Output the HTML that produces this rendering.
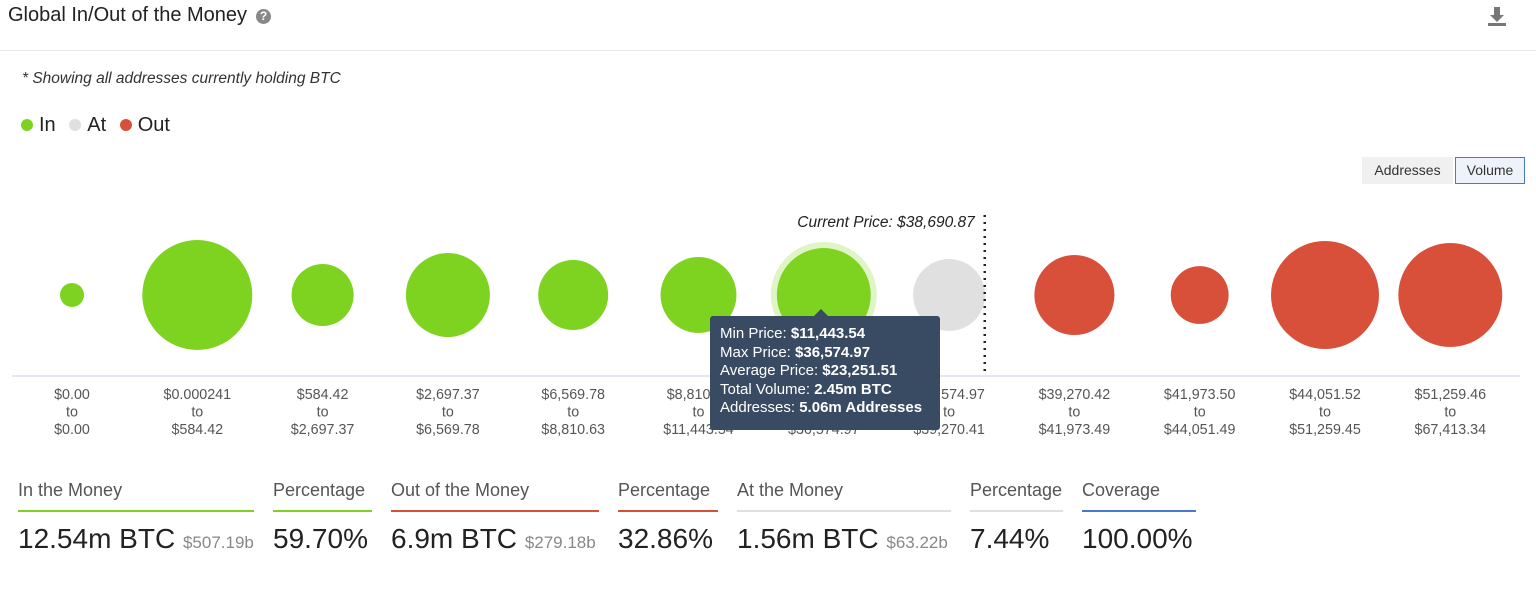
<!DOCTYPE html>
<html><head><meta charset="utf-8"><style>
body{margin:0;width:1536px;height:593px;background:#fff;font-family:"Liberation Sans",sans-serif;position:relative;overflow:hidden;color:#222}
.a{position:absolute;white-space:nowrap}
.hd{font-size:18px;color:#555}
.ul{position:absolute;height:2px}
.val{font-size:28px;color:#222}
.sub{font-size:17px;color:#888}
</style></head><body>
<div class="a" style="left:8px;top:4px;font-size:20px;color:#222">Global In/Out of the Money</div>
<div class="a" style="left:256px;top:9px;width:15px;height:15px;border-radius:50%;background:#888;color:#fff;font-size:12px;font-weight:bold;text-align:center;line-height:15px">?</div>
<svg class="a" style="left:1486px;top:5px" width="22" height="22"><path d="M8 2h6v8h4l-7 7-7-7h4z" fill="#777"/><rect x="2" y="18" width="18" height="3" fill="#777"/></svg>
<div class="a" style="left:0;top:50px;width:1536px;height:1px;background:#e6e6e6"></div>
<div class="a" style="left:22px;top:70px;font-size:15.5px;font-style:italic;color:#333">* Showing all addresses currently holding BTC</div>
<div class="a" style="left:21px;top:114px;font-size:20px;color:#222">
<span><span style="display:inline-block;width:12px;height:12px;border-radius:50%;background:#7ed321;margin-right:6px"></span>In</span>
<span style="margin-left:8px"><span style="display:inline-block;width:12px;height:12px;border-radius:50%;background:#e0e0e0;margin-right:6px"></span>At</span>
<span style="margin-left:8px"><span style="display:inline-block;width:12px;height:12px;border-radius:50%;background:#d9503a;margin-right:6px"></span>Out</span></div>
<div class="a" style="left:1362px;top:157px;width:91px;height:27px;background:#f0f0f0;font-size:14px;line-height:27px;text-align:center;color:#333">Addresses</div>
<div class="a" style="left:1455px;top:157px;width:68px;height:25px;background:#eef3fb;border:1px solid #4a78d0;font-size:14px;line-height:25px;text-align:center;color:#333">Volume</div>
<svg class="a" id="chart" style="left:0;top:0" width="1536" height="450"></svg>
<div class="a" style="left:710px;top:316px;width:230px;height:114px;background:#394a63;border-radius:3px;color:#fff;font-size:15px;line-height:18.5px;padding:9px 0 0 10px;box-sizing:border-box">
<div style="position:absolute;left:104px;top:-7px;width:0;height:0;border-left:7px solid transparent;border-right:7px solid transparent;border-bottom:7px solid #394a63"></div>
Min Price: <b>$11,443.54</b><br>Max Price: <b>$36,574.97</b><br>Average Price: <b>$23,251.51</b><br>Total Volume: <b>2.45m BTC</b><br>Addresses: <b>5.06m Addresses</b></div>

<div class="a hd" style="left:18px;top:480px">In the Money</div>
<div class="ul" style="left:18px;top:510px;width:236px;background:#7ed321"></div>
<div class="a val" style="left:18px;top:523px">12.54m BTC <span class="sub">$507.19b</span></div>
<div class="a hd" style="left:273px;top:480px">Percentage</div>
<div class="ul" style="left:273px;top:510px;width:99px;background:#7ed321"></div>
<div class="a val" style="left:273px;top:523px">59.70%</div>
<div class="a hd" style="left:391px;top:480px">Out of the Money</div>
<div class="ul" style="left:391px;top:510px;width:208px;background:#d9503a"></div>
<div class="a val" style="left:391px;top:523px">6.9m BTC <span class="sub">$279.18b</span></div>
<div class="a hd" style="left:618px;top:480px">Percentage</div>
<div class="ul" style="left:618px;top:510px;width:100px;background:#d9503a"></div>
<div class="a val" style="left:618px;top:523px">32.86%</div>
<div class="a hd" style="left:737px;top:480px">At the Money</div>
<div class="ul" style="left:737px;top:510px;width:214px;background:#e0e0e0"></div>
<div class="a val" style="left:737px;top:523px">1.56m BTC <span class="sub">$63.22b</span></div>
<div class="a hd" style="left:970px;top:480px">Percentage</div>
<div class="ul" style="left:970px;top:510px;width:93px;background:#e0e0e0"></div>
<div class="a val" style="left:970px;top:523px">7.44%</div>
<div class="a hd" style="left:1082px;top:480px">Coverage</div>
<div class="ul" style="left:1082px;top:510px;width:114px;background:#4a78d0"></div>
<div class="a val" style="left:1082px;top:523px">100.00%</div>

<script>
const lowLabels=["$0.00","$0.000241","$584.42","$2,697.37","$6,569.78","$8,810.63","$11,443.54","$36,574.97","$39,270.42","$41,973.50","$44,051.52","$51,259.46"];
const highLabels=["$0.00","$584.42","$2,697.37","$6,569.78","$8,810.63","$11,443.54","$36,574.97","$39,270.41","$41,973.49","$44,051.49","$51,259.45","$67,413.34"];
const volumes=[0.16,3.36,1.07,1.96,1.36,1.6,2.45,1.44,1.78,0.93,3.24,3.0];
const status=["in","in","in","in","in","in","in","at","out","out","out","out"];
const currentPrice="$38,690.87";
const hoverIndex=6;
const colors={in:"#7ed321",at:"#e0e0e0",out:"#d9503a"};
const NS="http://www.w3.org/2000/svg";
const svg=document.getElementById('chart');
const x0=72,step=125.3,cy=295;
const xScale=i=>x0+i*step;
const rScale=v=>30*Math.sqrt(v);
function mk(t,a){const e=document.createElementNS(NS,t);for(const k in a)e.setAttribute(k,a[k]);svg.appendChild(e);return e;}
const ax=mk('line',{x1:12,x2:1520,y1:376,y2:376,stroke:'#c9d3e3','stroke-width':1});


volumes.forEach((v,i)=>{
  const cx=xScale(i),r=rScale(v);
  if(i===hoverIndex){
    const h=mk('circle',{cx:cx,cy:cy,r:r+6,fill:'#7ed321',opacity:0.25});
    
    
  }
  const c=mk('circle',{cx:cx,cy:cy,r:r,fill:colors[status[i]]});
  
  
  [lowLabels[i],'to',highLabels[i]].forEach((s,j)=>{
    const t=mk('text',{x:cx,y:399+j*17.5,'text-anchor':'middle','font-size':14.3,fill:'#555','font-family':'Liberation Sans,sans-serif'});
    t.textContent=s;
    
    
  });
});
const lineX=(xScale(7)+xScale(8))/2-27;
const dl=mk('line',{x1:lineX,x2:lineX,y1:215,y2:375,stroke:'#222','stroke-width':2.5,'stroke-dasharray':'2 5'});


const ct=mk('text',{x:lineX-10,y:227,'text-anchor':'end','font-size':15.5,'font-style':'italic',fill:'#222','font-family':'Liberation Sans,sans-serif'});
ct.textContent='Current Price: '+currentPrice;


</script>
</body></html>
